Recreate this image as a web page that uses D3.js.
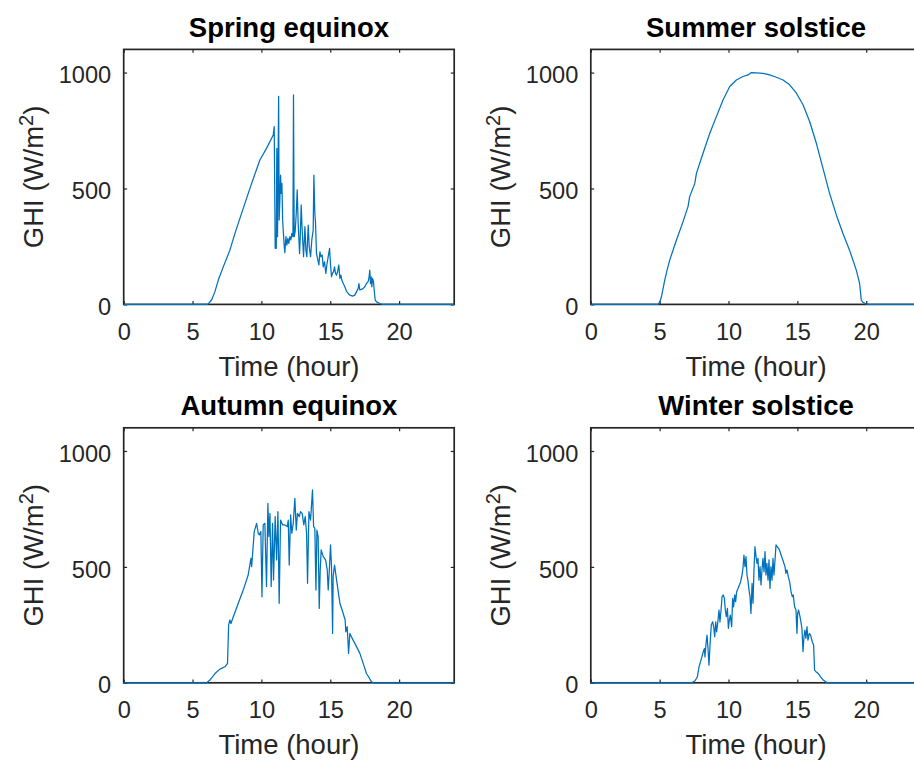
<!DOCTYPE html>
<html>
<head>
<meta charset="utf-8">
<script src="https://cdn.jsdelivr.net/npm/d3@7"></script>
<style>
  html, body { margin: 0; padding: 0; background: #fff; }
  svg { display: block; font-family: "Liberation Sans", Arial, Helvetica, sans-serif; }
  .tick text { fill: #262626; font-size: 23.6px; }
  .tick line { stroke: #262626; stroke-width: 1.2; }
  .frame { fill: none; stroke: #262626; stroke-width: 1.7; }
  .title { font-weight: bold; font-size: 27.5px; fill: #000; }
  .label { font-size: 27.5px; fill: #262626; }
  .ghi { fill: none; stroke: #0072BD; stroke-width: 1.25; stroke-linejoin: round; }
</style>
</head>
<body>
<svg id="chart" width="914" height="763"></svg>
<script>
// GHI readings [hour, W/m²] for four days of the year
const SPRING = [
  [0,0],[6.1,0],[6.38,19],[6.62,54],[6.87,105],[7.23,162],[7.71,234],[8.12,314],[8.68,414],
  [9.29,522],[9.89,623],[10.37,673],[10.86,731],[10.93,767],[11.0,242],[11.08,242],[11.12,673],
  [11.17,292],[11.25,897],[11.29,364],[11.34,450],[11.39,558],[11.44,479],[11.49,522],[11.54,364],
  [11.66,249],[11.70,223],[11.78,292],[11.85,256],[11.92,285],[11.99,263],[12.07,292],[12.14,278],
  [12.21,306],[12.29,292],[12.33,904],[12.38,292],[12.45,314],[12.53,393],[12.6,494],[12.67,350],
  [12.77,220],[12.82,292],[12.89,429],[12.96,321],[13.06,206],[13.16,335],[13.23,234],[13.3,206],
  [13.4,342],[13.47,249],[13.57,206],[13.66,278],[13.76,321],[13.81,558],[13.88,393],[13.93,350],
  [14.0,220],[14.1,191],[14.17,170],[14.25,227],[14.32,206],[14.41,213],[14.49,162],[14.58,184],
  [14.68,134],[14.75,170],[14.85,206],[14.95,242],[15.02,170],[15.09,119],[15.16,134],[15.24,141],
  [15.31,162],[15.38,134],[15.45,126],[15.53,141],[15.62,170],[15.7,112],[15.77,126],[15.84,105],
  [15.94,90],[16.06,76],[16.18,57],[16.3,47],[16.42,40],[16.62,36],[16.78,40],[16.91,55],
  [17.03,69],[17.08,90],[17.15,62],[17.27,65],[17.39,69],[17.51,76],[17.63,90],[17.75,98],
  [17.82,119],[17.87,148],[17.92,90],[17.97,119],[18.02,76],[18.07,112],[18.14,98],[18.19,62],
  [18.26,19],[18.36,11],[18.6,4],[18.8,0],[24,0]
];
const SUMMER = [
  [0,0],[4.89,0],[5.01,11],[5.13,33],[5.37,105],[5.54,148],[5.73,191],[6.22,278],[6.7,357],
  [7.06,422],[7.18,465],[7.55,522],[7.67,565],[8.15,652],[8.64,738],[9.12,810],[9.6,882],
  [10.09,940],[10.57,968],[11.05,983],[11.42,990],[11.66,1000],[12.02,999],[12.51,997],
  [12.99,990],[13.47,980],[13.96,968],[14.44,947],[14.93,911],[15.41,861],[15.89,789],
  [16.38,695],[16.86,587],[17.34,479],[17.83,386],[18.31,306],[18.79,234],[19.28,148],
  [19.52,91],[19.64,19],[19.76,9],[20.0,1],[20.2,0],[24,0]
];
const AUTUMN = [
  [0,0],[6.02,0],[6.26,12],[6.63,40],[6.99,59],[7.35,69],[7.54,84],[7.62,249],[7.71,271],
  [7.79,256],[7.96,285],[8.32,343],[8.68,400],[9.04,465],[9.24,537],[9.29,501],[9.48,652],
  [9.65,688],[9.77,645],[9.84,638],[9.96,652],[10.04,371],[10.13,681],[10.25,688],[10.37,415],
  [10.47,774],[10.54,631],[10.62,731],[10.71,415],[10.81,688],[10.88,443],[11.0,717],[11.1,530],
  [11.2,738],[11.29,343],[11.39,702],[11.54,681],[11.71,681],[11.88,674],[11.95,702],[12.02,508],
  [12.12,724],[12.21,645],[12.31,688],[12.43,796],[12.53,659],[12.62,731],[12.75,717],[12.84,738],
  [12.96,731],[13.08,681],[13.18,717],[13.28,645],[13.35,429],[13.45,738],[13.57,702],[13.71,832],
  [13.79,674],[13.88,667],[13.96,400],[14.03,659],[14.12,631],[14.2,321],[14.27,487],[14.34,573],
  [14.49,544],[14.66,530],[14.78,487],[14.85,400],[14.92,472],[15.02,595],[15.09,501],[15.17,213],
  [15.21,458],[15.31,508],[15.46,443],[15.7,343],[15.94,299],[16.08,271],[16.13,220],[16.23,242],
  [16.33,127],[16.42,213],[16.66,184],[16.91,156],[17.15,127],[17.39,84],[17.51,62],[17.63,40],
  [17.78,26],[17.99,4],[18.16,0],[24,0]
];
const WINTER = [
  [0,0],[7.33,0],[7.57,9],[7.74,26],[7.86,69],[8.0,98],[8.17,134],[8.25,148],[8.29,112],
  [8.37,170],[8.44,206],[8.51,148],[8.58,76],[8.68,184],[8.75,249],[8.85,263],[8.92,242],
  [9.0,199],[9.07,263],[9.14,220],[9.24,271],[9.31,314],[9.38,263],[9.46,314],[9.53,372],
  [9.62,379],[9.7,364],[9.77,314],[9.84,285],[9.92,321],[9.99,235],[10.06,271],[10.13,292],
  [10.23,242],[10.3,364],[10.37,328],[10.45,379],[10.52,350],[10.59,393],[10.69,407],[10.79,422],
  [10.88,436],[10.98,465],[11.05,494],[11.12,551],[11.2,501],[11.27,544],[11.34,465],[11.41,443],
  [11.49,400],[11.56,372],[11.63,299],[11.71,429],[11.78,343],[11.85,487],[11.92,587],[12.0,544],
  [12.07,515],[12.14,537],[12.21,443],[12.29,501],[12.36,422],[12.43,487],[12.5,537],[12.58,479],
  [12.65,566],[12.72,465],[12.79,515],[12.87,443],[12.94,530],[13.01,407],[13.08,501],[13.16,443],
  [13.23,537],[13.3,465],[13.37,523],[13.45,595],[13.54,587],[13.64,580],[13.74,566],[13.86,544],
  [13.98,523],[14.1,501],[14.17,472],[14.25,487],[14.34,458],[14.44,436],[14.54,393],[14.63,372],
  [14.7,379],[14.8,328],[14.9,314],[14.97,213],[15.02,299],[15.09,314],[15.19,285],[15.26,263],
  [15.33,235],[15.41,134],[15.48,199],[15.55,227],[15.62,192],[15.7,242],[15.77,184],[15.87,213],
  [15.96,206],[16.08,177],[16.18,163],[16.25,55],[16.35,48],[16.52,40],[16.69,26],[16.88,12],
  [17.08,3],[17.24,0],[24,0]
];

const TITLES = ["Spring equinox", "Summer solstice", "Autumn equinox", "Winter solstice"];
const SERIES = [SPRING, SUMMER, AUTUMN, WINTER];
const X_TICKS = [0, 5, 10, 15, 20];
const Y_TICKS = [0, 500, 1000];

// panel boxes (left, top) in a 2x2 grid
const PANEL_W = 330.5, PANEL_H = 255;
const PANEL_POS = [[123.7, 49.4], [590.8, 49.4], [123.7, 427.8], [590.8, 427.8]];
const TICK_LEN = 3.4;

const svg = d3.select("#chart");

SERIES.forEach((data, i) => {
  const [left, top] = PANEL_POS[i];
  const g = svg.append("g").attr("transform", `translate(${left},${top})`);

  const x = d3.scaleLinear().domain([0, 24]).range([0, PANEL_W]);
  const y = d3.scaleLinear().domain([0, 1100]).range([PANEL_H, 0]);

  // axes with inward ticks on all four sides (matlab box style)
  const ax = [
    g.append("g").attr("transform", `translate(0,${PANEL_H})`)
      .call(d3.axisBottom(x).tickValues(X_TICKS).tickFormat(d3.format("d"))
              .tickSizeInner(-TICK_LEN).tickSizeOuter(0).tickPadding(18.6)),
    g.append("g")
      .call(d3.axisLeft(y).tickValues(Y_TICKS).tickFormat(d3.format("d"))
              .tickSizeInner(-TICK_LEN).tickSizeOuter(0).tickPadding(12.5)),
    g.append("g")
      .call(d3.axisTop(x).tickValues(X_TICKS).tickSizeInner(-TICK_LEN).tickSizeOuter(0).tickFormat("")),
    g.append("g").attr("transform", `translate(${PANEL_W},0)`)
      .call(d3.axisRight(y).tickValues(Y_TICKS).tickSizeInner(-TICK_LEN).tickSizeOuter(0).tickFormat(""))
  ];
  ax.forEach(a => { a.select(".domain").remove(); a.attr("font-size", null).attr("font-family", null); });
  ax[1].selectAll(".tick text").attr("dy", "0.43em");

  g.append("rect").attr("class", "frame").attr("width", PANEL_W).attr("height", PANEL_H);

  const line = d3.line().x(d => x(d[0])).y(d => y(d[1]));
  g.append("path").datum(data).attr("class", "ghi").attr("d", line);

  g.append("text").attr("class", "title")
      .attr("x", PANEL_W / 2).attr("y", -12.8).attr("text-anchor", "middle")
      .text(TITLES[i]);

  g.append("text").attr("class", "label")
      .attr("x", PANEL_W / 2).attr("y", PANEL_H + 71.3).attr("text-anchor", "middle")
      .text("Time (hour)");

  const yl = g.append("text").attr("class", "label")
      .attr("transform", `translate(-80.5,${PANEL_H / 2}) rotate(-90)`)
      .attr("text-anchor", "middle");
  yl.append("tspan").text("GHI (W/m");
  yl.append("tspan").attr("font-size", "20px").attr("dy", "-10").text("2");
  yl.append("tspan").attr("dy", "10").text(")");
});
</script>
</body>
</html>
